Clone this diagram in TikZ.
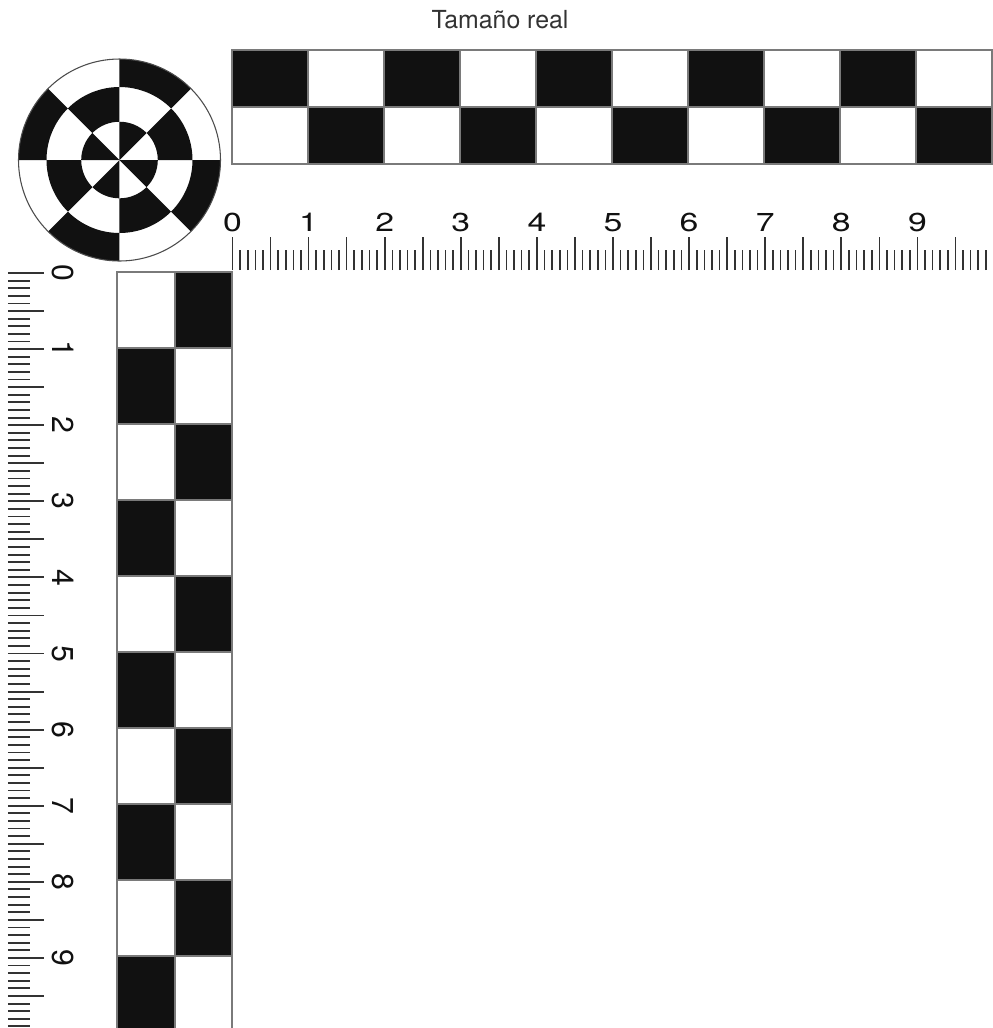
\documentclass[tikz,border=0pt]{standalone}
\usepackage{fontspec}
\setmainfont{TeX Gyre Heros}

\definecolor{ink}{HTML}{111111}
\definecolor{rim}{HTML}{7A7A7A}
\definecolor{tickgray}{HTML}{333333}

\tikzset{
  border/.style={draw=rim, line width=0.4pt},
  tickline/.style={draw=tickgray, line width=0.6pt},
  sidetick/.style={draw=tickgray, line width=0.7pt},
  toplabel/.style={inner sep=0pt, anchor=base, text=ink, xscale=1.3, font=\fontsize{9.7}{10}\selectfont},
  sidelabel/.style={inner sep=0pt, anchor=base, rotate=-90, text=ink, font=\fontsize{11.3}{12}\selectfont},
  title/.style={inner sep=0pt, anchor=base, text=black!80, font=\fontsize{9.3}{10}\selectfont}
}

\begin{document}
\begin{tikzpicture}[x=0.013141cm, y=-0.013141cm]
\useasboundingbox (0,0) rectangle (993,1028);

\node[title] (title) at (500,28) {Tamaño real};

% target
\begin{scope}[shift={(119.5,160)}, yscale=-1]
\foreach \a in {45,135,225,315}
  \fill[ink] (\a:101) arc[start angle=\a, delta angle=45, radius=101] -- (\a+45:73) arc[start angle=\a+45, delta angle=-45, radius=73] -- cycle;
\foreach \a in {0,90,180,270}
  \fill[ink] (\a:73) arc[start angle=\a, delta angle=45, radius=73] -- (\a+45:38.3) arc[start angle=\a+45, delta angle=-45, radius=38.3] -- cycle;
\foreach \a in {45,135,225,315}
  \fill[ink] (0,0) -- (\a:38.3) arc[start angle=\a, delta angle=45, radius=38.3] -- cycle;
\draw[draw=black!70, line width=0.4pt] (0,0) circle[radius=101];
\end{scope}

% top strip
\foreach \c in {0,2,4,6,8}
  \fill[ink] ({232+76*\c},50) rectangle +(76,57);
\foreach \c in {1,3,5,7,9}
  \fill[ink] ({232+76*\c},107) rectangle +(76,57);
\draw[border] (232,50) rectangle (992,164);
\draw[border] (232,107) -- (992,107);
\foreach \c in {1,...,9}
  \draw[border] ({232+76*\c},50) -- +(0,114);

% left strip
\begin{scope}
\clip (0,0) rectangle (993,1028);
\foreach \r in {1,3,5,7,9}
  \fill[ink] (117,{272+76*\r}) rectangle +(58,76);
\foreach \r in {0,2,4,6,8}
  \fill[ink] (175,{272+76*\r}) rectangle +(57,76);
\draw[border] (117,1040) |- (232,272) -- (232,1040);
\draw[border] (175,272) -- (175,1040);
\foreach \r in {1,...,9}
  \draw[border] (117,{272+76*\r}) -- +(115,0);
\end{scope}

% top ruler
\foreach \m in {0,...,99} {
  \pgfmathsetmacro\tip{ifthenelse(mod(\m,5)==0,237,250)}
  \draw[tickline] ({232.5+7.61*\m},270) -- ({232.5+7.61*\m},\tip);
}
\foreach \n in {0,...,9}
  \node[toplabel] (h\n) at ({232.5+76.1*\n},231) {\n};

% side ruler
\foreach \m in {0,...,99} {
  \pgfmathsetmacro\tip{ifthenelse(mod(\m,5)==0,44,30)}
  \draw[sidetick] (8,{273+7.61*\m}) -- (\tip,{273+7.61*\m});
}
\foreach \n in {0,...,9}
  \node[sidelabel] (v\n) at (52,{273+76.1*\n}) {\n};
\end{tikzpicture}
\end{document}
